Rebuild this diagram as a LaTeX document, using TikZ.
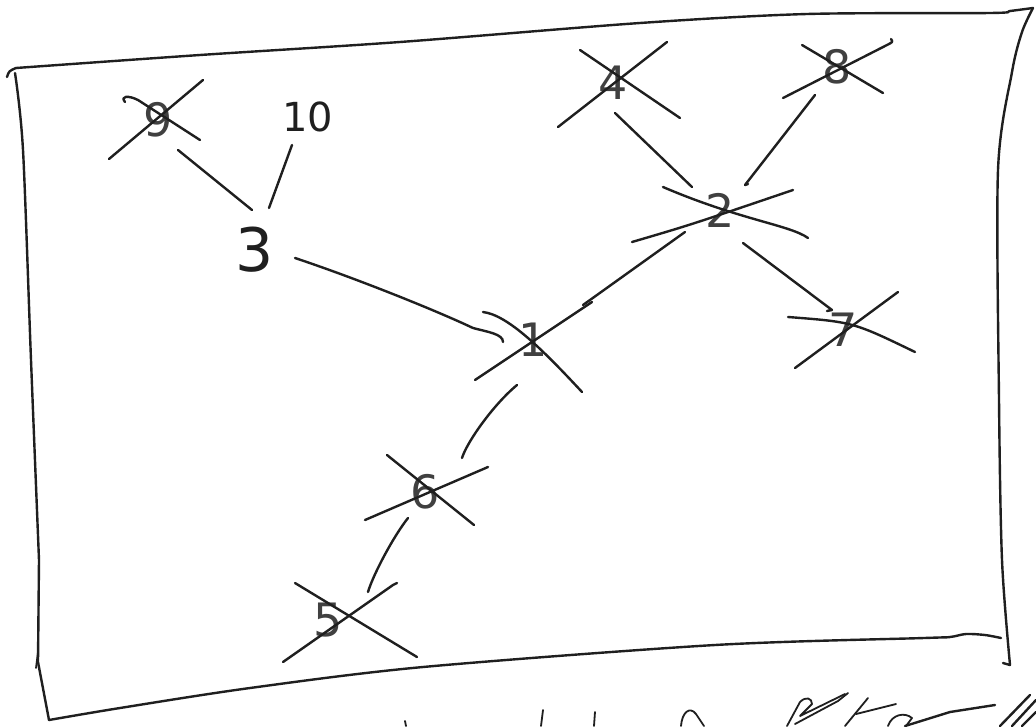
\documentclass[tikz,border=0pt]{standalone}
\usepackage{fontspec}
\setmainfont{DejaVu Sans}
\usetikzlibrary{calc}
\definecolor{ink}{gray}{0.12}
\begin{document}
\begin{tikzpicture}[x=1pt,y=-1pt,
  pen/.style={draw=ink,line width=2.4pt,line cap=round,line join=round},
  fine/.style={draw=ink,line width=1.8pt,line cap=round,line join=round},
  digit/.style={text=ink!85,font=\fontsize{46}{46}\selectfont,inner sep=0pt},
  bigdigit/.style={text=ink,font=\fontsize{60}{60}\selectfont,inner sep=0pt},
  smalldigit/.style={text=ink,font=\fontsize{40}{40}\selectfont,inner sep=0pt}]
\useasboundingbox (0,0) rectangle (1036,726);
\fill[white] (0,0) rectangle (1036,726);

% frame
\draw[pen] (7,77) .. controls (9,71) .. (16,68);
\draw[pen] plot[smooth] coordinates {(16,68) (200,55) (400,42) (640,23) (807,14) (990,13) (1010,11) (1033,8)};
\draw[pen] plot[smooth] coordinates {(1033,8) (1022,32) (1012,72) (998,170) (999,400) (1002,560) (1010,665)} -- (1003,663);
\draw[pen] plot[smooth] coordinates {(15,73) (23,150) (31,360) (39,560)} -- (38,662) -- (49,720);
\draw[fine] (38,652) -- (36,668);
\draw[pen] plot[smooth] coordinates {(49,720) (120,708) (250,688) (423,667) (715,645) (924,638) (950,637) (966,634) (985,635) (1001,638)};

% nodes (digits)
\node[digit] (n9) at (158,120) {9};
\node[smalldigit] (n10) at (308,117) {10};
\node[bigdigit] (n3) at (255,250) {3};
\node[digit] (n1) at (533,340) {1};
\node[digit] (n2) at (720,210) {2};
\node[digit] (n4) at (613,83) {4};
\node[digit] (n8) at (837,67) {8};
\node[digit] (n7) at (843,330) {7};
\node[digit] (n6) at (425,492) {6};
\node[digit] (n5) at (328,620) {5};

% crosses
\draw[pen] ($(n9)+(-49,39)$) -- ($(n9)+(45,-40)$);
\draw[pen] ($(n9)+(-33,-18)$) .. controls ($(n9)+(-38,-24)$) and ($(n9)+(-30,-25)$) .. ($(n9)+(-20,-20)$) -- ($(n9)+(42,20)$);
\draw[pen] ($(n4)+(-55,44)$) -- ($(n4)+(54,-41)$);
\draw[pen] ($(n4)+(-33,-33)$) -- ($(n4)+(67,35)$);
\draw[pen] ($(n8)+(-54,31)$) -- ($(n8)+(50,-22)$) .. controls ($(n8)+(56,-25)$) .. ($(n8)+(54,-28)$);
\draw[pen] ($(n8)+(-35,-22)$) -- ($(n8)+(46,26)$);
\draw[pen] ($(n2)+(-88,32)$) .. controls ($(n2)+(-30,15)$) .. ($(n2)+(73,-20)$);
\draw[pen] ($(n2)+(-57,-23)$) .. controls ($(n2)+(20,10)$) and ($(n2)+(70,15)$) .. ($(n2)+(88,28)$);
\draw[pen] ($(n1)+(-58,40)$) -- ($(n1)+(59,-38)$);
\draw[pen] ($(n1)+(-50,-28)$) .. controls ($(n1)+(-25,-25)$) and ($(n1)+(10,10)$) .. ($(n1)+(49,52)$);
\draw[pen] ($(n7)+(-48,38)$) -- ($(n7)+(55,-38)$);
\draw[pen] ($(n7)+(-55,-13)$) .. controls ($(n7)+(10,-8)$) .. ($(n7)+(72,22)$);
\draw[pen] ($(n6)+(-60,28)$) -- ($(n6)+(63,-25)$);
\draw[pen] ($(n6)+(-38,-37)$) -- ($(n6)+(49,33)$);
\draw[pen] ($(n5)+(-45,42)$) -- ($(n5)+(65,-35)$) -- ($(n5)+(69,-37)$);
\draw[pen] ($(n5)+(-33,-37)$) -- ($(n5)+(89,37)$);

% connectors
\draw[pen] ($(n9)+(20,30)$) -- ($(n3)+(-3,-40)$);
\draw[pen] ($(n10)+(-16,28)$) -- ($(n3)+(14,-42)$);
\draw[pen] ($(n3)+(40,8)$) .. controls ($(n3)+(100,28)$) and ($(n3)+(180,60)$) .. ($(n1)+(-60,-12)$) .. controls ($(n1)+(-45,-8)$) and ($(n1)+(-30,-6)$) .. ($(n1)+(-30,2)$);
\draw[pen] ($(n1)+(50,-35)$) -- ($(n2)+(-35,22)$);
\draw[pen] ($(n4)+(2,30)$) -- ($(n2)+(-28,-23)$);
\draw[pen] ($(n8)+(-22,28)$) -- ($(n2)+(25,-25)$) -- ($(n2)+(28,-26)$);
\draw[pen] ($(n2)+(23,33)$) -- ($(n7)+(-11,-20)$) -- ($(n7)+(-16,-19)$);
\draw[pen] ($(n1)+(-16,45)$) .. controls ($(n1)+(-40,65)$) and ($(n6)+(42,-50)$) .. ($(n6)+(37,-34)$);
\draw[pen] ($(n6)+(-17,26)$) .. controls ($(n6)+(-32,45)$) and ($(n5)+(45,-45)$) .. ($(n5)+(40,-28)$);

% cut-off writing below the frame
\draw[fine] (405,721) -- (406,726);
\draw[fine] (543,710) -- (541,726);
\draw[fine] (595,712) -- (594,726);
\draw[fine] (681,726) .. controls (682,712) and (690,706) .. (696,714) -- (704,726);
\draw[fine] (787,726) -- (800,702) .. controls (806,696) and (812,698) .. (812,704) -- (800,716) -- (845,694);
\draw[fine] (795,724) -- (838,701) -- (848,693);
\draw[fine] (845,726) -- (868,698);
\draw[fine] (856,714) -- (896,704);
\draw[fine] (888,726) .. controls (892,714) and (905,712) .. (912,718) -- (906,726);
\draw[pen] (905,726) -- (950,712) -- (995,705);
\draw[pen] (1000,726) -- (1030,695);
\draw[pen] (1012,726) -- (1036,700);
\draw[pen] (1022,726) -- (1036,712);
\end{tikzpicture}
\end{document}
